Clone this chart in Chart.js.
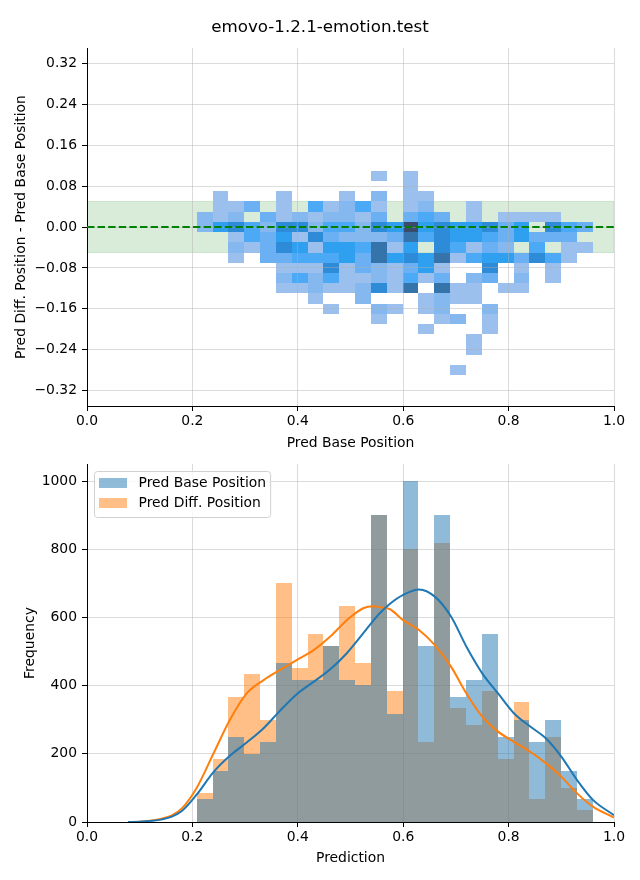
<!DOCTYPE html>
<html>
<head>
<meta charset="utf-8">
<script src="https://cdn.jsdelivr.net/npm/chart.js@4.4.1/dist/chart.umd.min.js"></script>
<style>
html,body{margin:0;padding:0;background:#fff;}
body{width:640px;height:880px;position:relative;overflow:hidden;font-family:'DejaVu Sans',sans-serif;}
#c1{position:absolute;left:0;top:0;width:640px;height:452px;}
#c2{position:absolute;left:0;top:450px;width:640px;height:430px;}
#title{position:absolute;left:0;top:16px;width:640px;text-align:center;font-size:16.7px;line-height:20px;color:#000;}
</style>
</head>
<body>
<canvas id="c1" width="640" height="452"></canvas>
<canvas id="c2" width="640" height="430"></canvas>
<div id="title">emovo-1.2.1-emotion.test</div>
<script>
// ---------------- data ----------------
const chartTitle = 'emovo-1.2.1-emotion.test';
const binEdges = [0.2082,0.2383,0.2683,0.2984,0.3284,0.3585,0.3886,0.4186,0.4487,0.4787,0.5088,0.5389,0.5689,0.5990,0.6290,0.6591,0.6892,0.7192,0.7493,0.7793,0.8094,0.8395,0.8695,0.8996,0.9296,0.9597];
const baseCounts = [67,150,249,199,235,467,416,416,516,416,401,900,317,1000,516,900,366,416,551,249,299,235,299,150,67];
const diffCounts = [84,184,367,434,299,701,451,551,516,633,467,900,385,800,235,818,334,284,384,185,352,67,249,101,35];

const kdeX    = [0.078,0.10,0.12,0.14,0.16,0.18,0.208,0.24,0.271,0.303,0.335,0.366,0.398,0.43,0.461,0.493,0.524,0.543,0.556,0.575,0.60,0.63,0.66,0.691,0.72,0.75,0.78,0.81,0.841,0.871,0.90,0.93,0.96,1.0];
const kdeBase = [0,1,3,7,15,32,80,146,194,233,275,326,375,411,447,495,553,590,613,640,666,682,661,602,514,436,377,319,280,245,192,123,65,20];
const kdeDiff = [0,1,4,9,19,40,100,201,299,377,416,446,475,504,543,592,627,633,630,624,592,563,519,455,377,309,265,235,206,172,133,84,45,13];

const heatYCenters = [0.10,0.08,0.06,0.04,0.02,0.00,-0.02,-0.04,-0.06,-0.08,-0.10,-0.12,-0.14,-0.16,-0.18,-0.20,-0.22,-0.24,-0.26,-0.28];
// density level per cell (rows follow heatYCenters, columns follow binEdges)
const heatCounts = [
 [0,0,0,0,0,0,0,0,0,0,0,1,0,1,0,0,0,0,0,0,0,0,0,0,0],
 [0,0,0,0,0,0,0,0,0,0,0,0,0,1,0,0,0,0,0,0,0,0,0,0,0],
 [0,1,0,0,0,1,0,0,0,1,0,2,0,1,1,0,0,0,0,0,0,0,0,0,0],
 [0,1,1,3,0,1,0,4,1,2,4,1,0,1,2,0,0,1,0,0,0,0,0,0,0],
 [2,1,2,0,3,1,2,1,2,2,1,3,0,3,4,3,0,1,0,1,1,1,1,0,0],
 [2,5,6,4,2,6,6,2,4,4,2,6,5,8,5,6,5,5,6,3,5,0,6,4,3],
 [0,0,1,4,3,5,1,6,3,2,2,2,3,7,4,6,5,5,4,3,5,3,3,3,0],
 [0,0,2,1,3,6,5,1,5,5,4,7,1,5,0,6,4,1,3,2,0,4,0,1,1],
 [0,0,1,0,3,3,4,4,4,5,3,7,5,6,5,7,1,4,5,5,3,6,4,1,0],
 [0,0,0,0,0,1,1,1,6,1,3,2,1,3,5,1,0,0,6,0,1,0,1,0,0],
 [0,0,0,0,0,2,4,2,4,1,1,2,1,4,1,3,0,2,3,0,2,0,1,0,0],
 [0,0,0,0,0,1,1,2,1,1,2,6,1,7,0,7,1,1,0,1,1,0,0,0,0],
 [0,0,0,0,0,0,0,1,0,0,2,0,0,0,1,2,1,1,0,0,0,0,0,0,0],
 [0,0,0,0,0,0,0,0,1,0,0,2,1,0,1,2,0,0,2,0,0,0,0,0,0],
 [0,0,0,0,0,0,0,0,0,0,0,1,0,0,0,1,2,0,1,0,0,0,0,0,0],
 [0,0,0,0,0,0,0,0,0,0,0,0,0,0,1,0,0,0,1,0,0,0,0,0,0],
 [0,0,0,0,0,0,0,0,0,0,0,0,0,0,0,0,0,1,0,0,0,0,0,0,0],
 [0,0,0,0,0,0,0,0,0,0,0,0,0,0,0,0,0,1,0,0,0,0,0,0,0],
 [0,0,0,0,0,0,0,0,0,0,0,0,0,0,0,0,0,0,0,0,0,0,0,0,0],
 [0,0,0,0,0,0,0,0,0,0,0,0,0,0,0,0,1,0,0,0,0,0,0,0,0]
];
const zeroLineY = 0;
const toleranceBand = [-0.05, 0.05];

const xTicks = [0,0.2,0.4,0.6,0.8,1.0];
const yTicksTop = [-0.32,-0.24,-0.16,-0.08,0,0.08,0.16,0.24,0.32];
const yTicksBottom = [0,200,400,600,800,1000];
const seriesLabels = ['Pred Base Position','Pred Diff. Position'];

// ---------------- styles ----------------
const heatPalette = [null,'#9cc0ee','#86b8f0','#6cb0f4','#4ba9f5','#2fa0ef','#2d8bd7','#3573ab','#3b4b6b'];
const blue = '#1f77b4', orange = '#ff7f0e';
const blueFill = 'rgba(31,119,180,0.5)', orangeFill = 'rgba(255,127,14,0.5)';
const gridColor = 'rgba(176,176,176,0.45)';
const FS = 13.9;

Chart.defaults.font.family = "'DejaVu Sans', sans-serif";
Chart.defaults.font.size = FS;
Chart.defaults.color = '#000';

function axisCommon(ticksArr, fmt, isX) {
  return {
    type: 'linear',
    offset: false,
    afterBuildTicks: s => { s.ticks = ticksArr.map(v => ({value: v})); },
    ticks: { autoSkip: false, maxRotation: 0, minRotation: 0, padding: isX ? 2 : 5, color: '#000', callback: fmt },
    grid: { color: gridColor, lineWidth: 1, drawTicks: true, tickLength: 5, tickColor: '#000', tickWidth: 1, offset: false },
    border: { display: true, color: '#000', width: 1 }
  };
}
const fmtX = v => Number(v).toFixed(1);
const fmtYTop = v => { const n = Number(v); return (n < -1e-9 ? '\u2212' : '') + Math.abs(n).toFixed(2); };
const fmtYBot = v => String(Math.round(Number(v)));

// ---------------- top: 2D histogram ----------------
const heatPlugin = {
  id: 'heat',
  beforeDraw(chart) {
    const {ctx, chartArea: a, scales: {x, y}} = chart;
    ctx.save();
    ctx.beginPath(); ctx.rect(a.left, a.top, a.right - a.left, a.bottom - a.top); ctx.clip();
    const b1 = y.getPixelForValue(toleranceBand[1]), b0 = y.getPixelForValue(toleranceBand[0]);
    ctx.fillStyle = 'rgba(0,128,0,0.15)';
    ctx.fillRect(a.left, b1, a.right - a.left, b0 - b1);
    ctx.strokeStyle = 'rgba(0,128,0,0.15)'; ctx.lineWidth = 1;
    ctx.strokeRect(a.left, b1, a.right - a.left, b0 - b1);
    const dy = Math.abs(heatYCenters[0] - heatYCenters[1]) / 2;
    heatCounts.forEach((row, j) => {
      const yc = heatYCenters[j];
      const py0 = Math.round(y.getPixelForValue(yc + dy));
      const py1 = Math.round(y.getPixelForValue(yc - dy));
      row.forEach((v, k) => {
        if (!v) return;
        const px0 = Math.round(x.getPixelForValue(binEdges[k]));
        const px1 = Math.round(x.getPixelForValue(binEdges[k + 1]));
        ctx.fillStyle = heatPalette[v];
        ctx.fillRect(px0, py0, px1 - px0, py1 - py0);
      });
    });
    ctx.restore();
  }
};

const xTop = axisCommon(xTicks, fmtX, true);
xTop.min = 0; xTop.max = 1;
xTop.afterFit = s => { s.height = 46; };
xTop.title = { display: true, text: 'Pred Base Position', color: '#000', padding: {top: 0, bottom: 0.2} };
const yTop = axisCommon(yTicksTop, fmtYTop, false);
yTop.min = -0.35; yTop.max = 0.35;
yTop.afterFit = s => { s.width = 87; };
yTop.title = { display: true, text: 'Pred Diff. Position - Pred Base Position', color: '#000', padding: {top: 12.7, bottom: 0} };

new Chart(document.getElementById('c1'), {
  type: 'line',
  data: { datasets: [{
    label: 'zero',
    data: [{x: 0, y: zeroLineY}, {x: 1, y: zeroLineY}],
    borderColor: '#008000', borderWidth: 2, borderDash: [7.4, 3.2],
    pointRadius: 0, fill: false, tension: 0
  }]},
  options: {
    responsive: false, animation: false, devicePixelRatio: 1,
    layout: { padding: { top: 48, right: 26, left: 0, bottom: 0 } },
    plugins: { legend: { display: false }, tooltip: { enabled: false } },
    events: [],
    scales: { x: xTop, y: yTop }
  },
  plugins: [heatPlugin]
});

// ---------------- bottom: histograms + KDE ----------------
// draw the library-positioned bars with pixel-snapped edges (no seams between bins)
const crispBars = {
  id: 'crispBars',
  beforeDatasetDraw(chart, args) {
    const meta = args.meta;
    if (meta.type !== 'bar') return;
    const {ctx, chartArea: a} = chart;
    const ds = chart.data.datasets[args.index];
    ctx.save();
    ctx.beginPath(); ctx.rect(a.left, a.top, a.right - a.left, a.bottom - a.top); ctx.clip();
    ctx.fillStyle = ds.backgroundColor;
    meta.data.forEach(el => {
      const p = el.getProps(['x', 'y', 'base', 'width'], true);
      const l = Math.round(p.x - p.width / 2), r = Math.round(p.x + p.width / 2);
      const t = Math.round(p.y), b = Math.round(p.base);
      ctx.fillRect(l, t, r - l, b - t);
    });
    ctx.restore();
    return false;
  }
};

const legendPlugin = {
  id: 'mplLegend',
  afterDraw(chart) {
    const {ctx, chartArea: a} = chart;
    const items = [
      {text: seriesLabels[0], color: blueFill},
      {text: seriesLabels[1], color: orangeFill}
    ];
    ctx.save();
    ctx.font = FS + "px 'DejaVu Sans', sans-serif";
    const fx = a.left + 7, fy = a.top + 7;
    const patchX = fx + 5, patchW = 28, patchH = 10;
    const textX = patchX + patchW + 11.5;
    const tw = Math.max(...items.map(it => ctx.measureText(it.text).width));
    const fw = textX + tw + 4 - fx, fh = 46;
    ctx.beginPath();
    if (ctx.roundRect) ctx.roundRect(fx + 0.5, fy + 0.5, fw, fh, 3); else ctx.rect(fx + 0.5, fy + 0.5, fw, fh);
    ctx.fillStyle = 'rgba(255,255,255,0.8)'; ctx.fill();
    ctx.strokeStyle = '#d0d0d0'; ctx.lineWidth = 1; ctx.stroke();
    items.forEach((it, i) => {
      const cy = fy + 12 + i * 20;
      ctx.fillStyle = it.color;
      ctx.fillRect(patchX, cy - patchH / 2, patchW, patchH);
      ctx.fillStyle = '#000';
      ctx.textBaseline = 'middle'; ctx.textAlign = 'left';
      ctx.fillText(it.text, textX, cy);
    });
    ctx.restore();
  }
};

const centers = binEdges.slice(0, -1).map((e, i) => (e + binEdges[i + 1]) / 2);

const xBot = axisCommon(xTicks, fmtX, true);
xBot.min = 0; xBot.max = 1;
xBot.afterFit = s => { s.height = 58; };
xBot.title = { display: true, text: 'Prediction', color: '#000', padding: {top: 0, bottom: 13.7} };
const yBot = axisCommon(yTicksBottom, fmtYBot, false);
yBot.min = 0; yBot.max = 1050;
yBot.afterFit = s => { s.width = 87; };
yBot.title = { display: true, text: 'Frequency', color: '#000', padding: {top: 21.7, bottom: 0} };

new Chart(document.getElementById('c2'), {
  type: 'bar',
  data: { datasets: [
    { type: 'line', label: seriesLabels[0] + ' KDE', data: kdeX.map((v, i) => ({x: v, y: kdeBase[i]})),
      borderColor: blue, borderWidth: 2, pointRadius: 0, fill: false, cubicInterpolationMode: 'monotone', order: 0 },
    { type: 'line', label: seriesLabels[1] + ' KDE', data: kdeX.map((v, i) => ({x: v, y: kdeDiff[i]})),
      borderColor: orange, borderWidth: 2, pointRadius: 0, fill: false, cubicInterpolationMode: 'monotone', order: 1 },
    { type: 'bar', label: seriesLabels[0], data: centers.map((c, i) => ({x: c, y: baseCounts[i]})),
      backgroundColor: blueFill, borderWidth: 0, inflateAmount: 0, barPercentage: 1, categoryPercentage: 1, grouped: false, order: 2 },
    { type: 'bar', label: seriesLabels[1], data: centers.map((c, i) => ({x: c, y: diffCounts[i]})),
      backgroundColor: orangeFill, borderWidth: 0, inflateAmount: 0, barPercentage: 1, categoryPercentage: 1, grouped: false, order: 3 }
  ]},
  options: {
    responsive: false, animation: false, devicePixelRatio: 1,
    layout: { padding: { top: 14, right: 26, left: 0, bottom: 0 } },
    plugins: { legend: { display: false }, tooltip: { enabled: false } },
    events: [],
    scales: { x: xBot, y: yBot }
  },
  plugins: [crispBars, legendPlugin]
});
</script>
</body>
</html>
